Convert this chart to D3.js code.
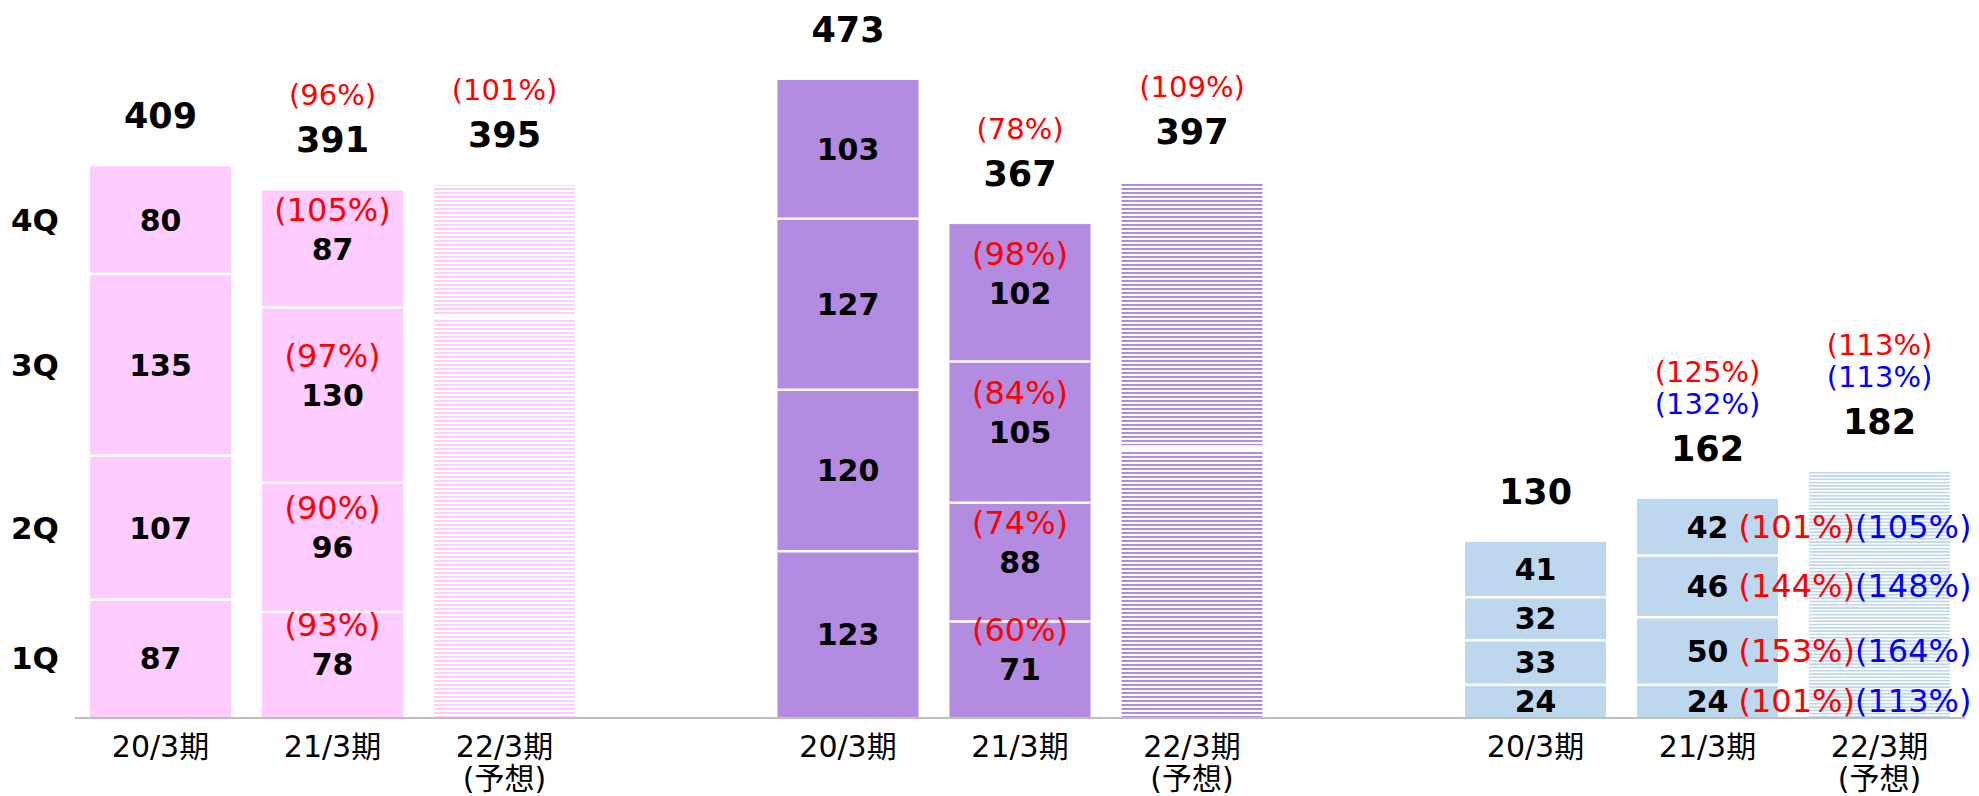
<!DOCTYPE html>
<html>
<head>
<meta charset="utf-8">
<script src="https://cdn.jsdelivr.net/npm/d3@7"></script>
<style>
  body { margin: 0; background: #fff; }
  text { font-family: "DejaVu Sans", "Noto Sans CJK JP", sans-serif; }
</style>
</head>
<body>
<svg id="base" width="1979" height="796"></svg>
<script>
// data
const groups = ["g1", "g2", "g3"]
const periods = ["20/3期", "21/3期", "22/3期"]
const periodSub = [null, null, "(予想)"]
const quarters = ["1Q", "2Q", "3Q", "4Q"]
const fills = ["#FFCCFF", "#B38BE0", "#BDD7EE"]

const actual20 = [[87, 107, 135, 80], [123, 120, 127, 103], [24, 33, 32, 41]]
const actual21 = [[78, 96, 130, 87], [71, 88, 105, 102], [24, 50, 46, 42]]
const forecastParts = [[297, 98], [200, 197], [182]]
const totals = [[409, 391, 395], [473, 367, 397], [130, 162, 182]]

// quarter yoy % for 21/3 (red), and second ratio (blue) for group 3
const qPctRed = [[93, 90, 97, 105], [60, 74, 84, 98], [101, 153, 144, 101]]
const qPctBlue = [null, null, [113, 164, 148, 105]]
const totPctRed = [[null, 96, 101], [null, 78, 109], [null, 125, 113]]
const totPctBlue = [[null, null, null], [null, null, null], [null, 132, 113]]

const svg = d3.select('#base')
const baseY = 717

let y = d3.scaleLinear().domain([0, 473]).range([baseY, 80])
let gx = d3.scalePoint().domain(groups).range([332.5, 1707.5])
let bx = d3.scaleBand().domain(periods).range([-258, 258]).paddingInner(0.18).paddingOuter(0.09)
let bw = bx.bandwidth()

function pct(v) { return "(" + v + "%)" }

function stack(vals) {
    let out = []
    let acc = 0
    vals.forEach(v => { out.push([acc, acc + v]); acc += v })
    return out
}

// stripe patterns for forecast bars
const defs = svg.append('defs')
groups.forEach((g, gi) => {
    let ph = gi == 2 ? 3.3 : 4
    let p = defs.append('pattern')
        .attr('id', 'stripe' + gi)
        .attr('patternUnits', 'userSpaceOnUse')
        .attr('width', 8).attr('height', ph)
    p.append('rect').attr('width', 8).attr('height', ph).attr('fill', '#fff')
    p.append('rect').attr('width', 8).attr('height', ph / 2).attr('fill', fills[gi])
})

const barLayer = svg.append('g')
const textLayer = svg.append('g')

// axis line
barLayer.append('line')
    .attr('x1', 75).attr('x2', 1965)
    .attr('y1', baseY + 1).attr('y2', baseY + 1)
    .style('stroke', '#BFBFBF').style('stroke-width', 2)

groups.forEach((g, gi) => {
    let cx = p => gx(g) + bx(p) + bw / 2
    let bars = [actual20[gi], actual21[gi], forecastParts[gi]]

    bars.forEach((vals, pi) => {
        let x0 = gx(g) + bx(periods[pi])
        let stacked = stack(vals)
        let acc = stacked[stacked.length - 1][1]
        let isFc = pi == 2

        barLayer.selectAll(null).data(stacked).enter().append('rect')
            .attr('x', x0).attr('width', bw)
            .attr('y', d => y(d[1]))
            .attr('height', d => y(d[0]) - y(d[1]))
            .attr('fill', isFc ? 'url(#stripe' + gi + ')' : fills[gi])

        // white separators between segments
        barLayer.selectAll(null).data(stacked.slice(1)).enter().append('line')
            .attr('x1', x0).attr('x2', x0 + bw)
            .attr('y1', d => y(d[0])).attr('y2', d => y(d[0]))
            .style('stroke', '#fff').style('stroke-width', isFc ? 5 : 2.5)

        // segment labels
        if (!isFc) {
            stacked.forEach((d, qi) => {
                let mid = (y(d[0]) + y(d[1])) / 2
                let vb = mid + 10.8
                if (pi == 1 && gi == 2) {
                    textLayer.append('text')
                        .attr('x', cx(periods[pi]) + 21).attr('y', vb)
                        .attr('text-anchor', 'end')
                        .style('font-size', '30px').style('font-weight', 'bold')
                        .text(vals[qi])
                    let t = textLayer.append('text')
                        .attr('x', cx(periods[pi]) + 31).attr('y', vb)
                        .style('font-size', '32px')
                    t.append('tspan').attr('fill', '#FF0000').text(pct(qPctRed[gi][qi]))
                    t.append('tspan').attr('fill', '#0000FF').text(pct(qPctBlue[gi][qi]))
                } else {
                    textLayer.append('text')
                        .attr('x', cx(periods[pi])).attr('y', vb)
                        .attr('text-anchor', 'middle')
                        .style('font-size', '30px').style('font-weight', 'bold')
                        .text(vals[qi])
                    if (pi == 1) {
                        textLayer.append('text')
                            .attr('x', cx(periods[pi])).attr('y', vb - 39)
                            .attr('text-anchor', 'middle')
                            .attr('fill', '#FF0000')
                            .style('font-size', '32px')
                            .text(pct(qPctRed[gi][qi]))
                    }
                }
                // quarter names next to the first bar
                if (gi == 0 && pi == 0) {
                    textLayer.append('text')
                        .attr('x', 35).attr('y', mid + 11)
                        .attr('text-anchor', 'middle')
                        .style('font-size', '31px').style('font-weight', 'bold')
                        .text(quarters[qi])
                }
            })
        }

        // totals above bar
        let tb = y(acc) - 38
        textLayer.append('text')
            .attr('x', cx(periods[pi])).attr('y', tb)
            .attr('text-anchor', 'middle')
            .style('font-size', '35px').style('font-weight', 'bold')
            .text(totals[gi][pi])
        let pb = tb - 47
        if (totPctBlue[gi][pi] != null) {
            textLayer.append('text')
                .attr('x', cx(periods[pi])).attr('y', pb)
                .attr('text-anchor', 'middle').attr('fill', '#0000FF')
                .style('font-size', '29px')
                .text(pct(totPctBlue[gi][pi]))
            pb -= 32
        }
        if (totPctRed[gi][pi] != null) {
            textLayer.append('text')
                .attr('x', cx(periods[pi])).attr('y', pb)
                .attr('text-anchor', 'middle').attr('fill', '#FF0000')
                .style('font-size', '29px')
                .text(pct(totPctRed[gi][pi]))
        }

        // period labels
        textLayer.append('text')
            .attr('x', cx(periods[pi])).attr('y', 757)
            .attr('text-anchor', 'middle')
            .style('font-size', '30px')
            .text(periods[pi])
        if (periodSub[pi]) {
            textLayer.append('text')
                .attr('x', cx(periods[pi])).attr('y', 789)
                .attr('text-anchor', 'middle')
                .style('font-size', '30px')
                .text(periodSub[pi])
        }
    })
})
</script>
</body>
</html>
